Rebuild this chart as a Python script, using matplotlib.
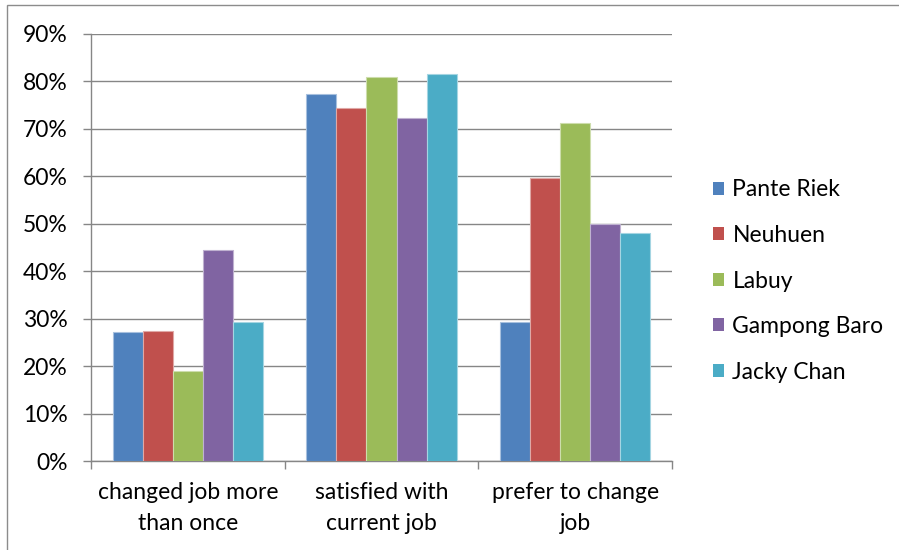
import matplotlib
matplotlib.use("Agg")
import matplotlib.pyplot as plt
import matplotlib.patches as mpatches
from matplotlib.ticker import PercentFormatter, FixedLocator
import numpy as np

categories = ["changed job more\nthan once", "satisfied with\ncurrent job", "prefer to change\njob"]
series_names = ["Pante Riek", "Neuhuen", "Labuy", "Gampong Baro", "Jacky Chan"]
pante_riek = [27.1, 77.3, 29.4]
neuhuen = [27.5, 74.5, 59.6]
labuy = [18.9, 81.0, 71.3]
gampong_baro = [44.5, 72.2, 50.0]
jacky_chan = [29.4, 81.6, 48.1]
values = [pante_riek, neuhuen, labuy, gampong_baro, jacky_chan]
colors = ["#4F81BD", "#C0504D", "#9BBB59", "#8064A2", "#4BACC6"]
edges = ["#A7C0DE", "#DFA8A6", "#CDDDAC", "#BFB1D0", "#A5D5E2"]

plt.rcParams['font.family'] = ['Lato', 'DejaVu Sans']
FS = 16.5

fig = plt.figure(figsize=(8.99, 5.5), dpi=100)
ax = fig.add_axes([91/899, 1-461/550, (672-91)/899, (461-34)/550])

x = np.arange(len(categories))
bw = 0.155
for i, (vals, c, ec, name) in enumerate(zip(values, colors, edges, series_names)):
    ax.bar(x + (i - 2) * bw, vals, width=bw, color=c, edgecolor=ec, linewidth=0.8,
           label=name, zorder=3)

ax.set_ylim(0, 90)
ax.set_xlim(-0.5, 2.5)
ax.yaxis.set_major_locator(FixedLocator(np.arange(0, 91, 10)))
ax.yaxis.set_major_formatter(PercentFormatter(decimals=0))
ax.grid(axis='y', color='#868686', linewidth=1.0, zorder=0)
ax.set_axisbelow(True)

ax.set_xticks(x)
ax.set_xticklabels(categories, fontsize=FS, linespacing=1.62)
ax.set_xticks([-0.5, 0.5, 1.5, 2.5], minor=True)
ax.tick_params(axis='x', which='major', length=0, pad=15)
ax.tick_params(axis='x', which='minor', length=6, color='#868686', width=1)
ax.tick_params(axis='y', length=6, color='#868686', width=1, pad=11, labelsize=FS)

for s in ['top', 'right']:
    ax.spines[s].set_visible(False)
for s in ['left', 'bottom']:
    ax.spines[s].set_color('#868686')
    ax.spines[s].set_linewidth(1)

handles = [mpatches.Patch(facecolor=c, edgecolor='none') for c in colors]
fig.legend(handles, series_names, loc='center left', bbox_to_anchor=(713/899, 1-281/550),
           frameon=False, fontsize=FS, handlelength=0.5, handleheight=0.5,
           handletextpad=0.35, labelspacing=1.07, borderpad=0, borderaxespad=0)

border = mpatches.Rectangle((7/899, -0.1), 1.2, 1 - 5/550 + 0.1, transform=fig.transFigure,
                            fill=False, edgecolor='#8C8C8C', linewidth=1, clip_on=False)
fig.patches.append(border)

fig.savefig("out.png", dpi=100)
